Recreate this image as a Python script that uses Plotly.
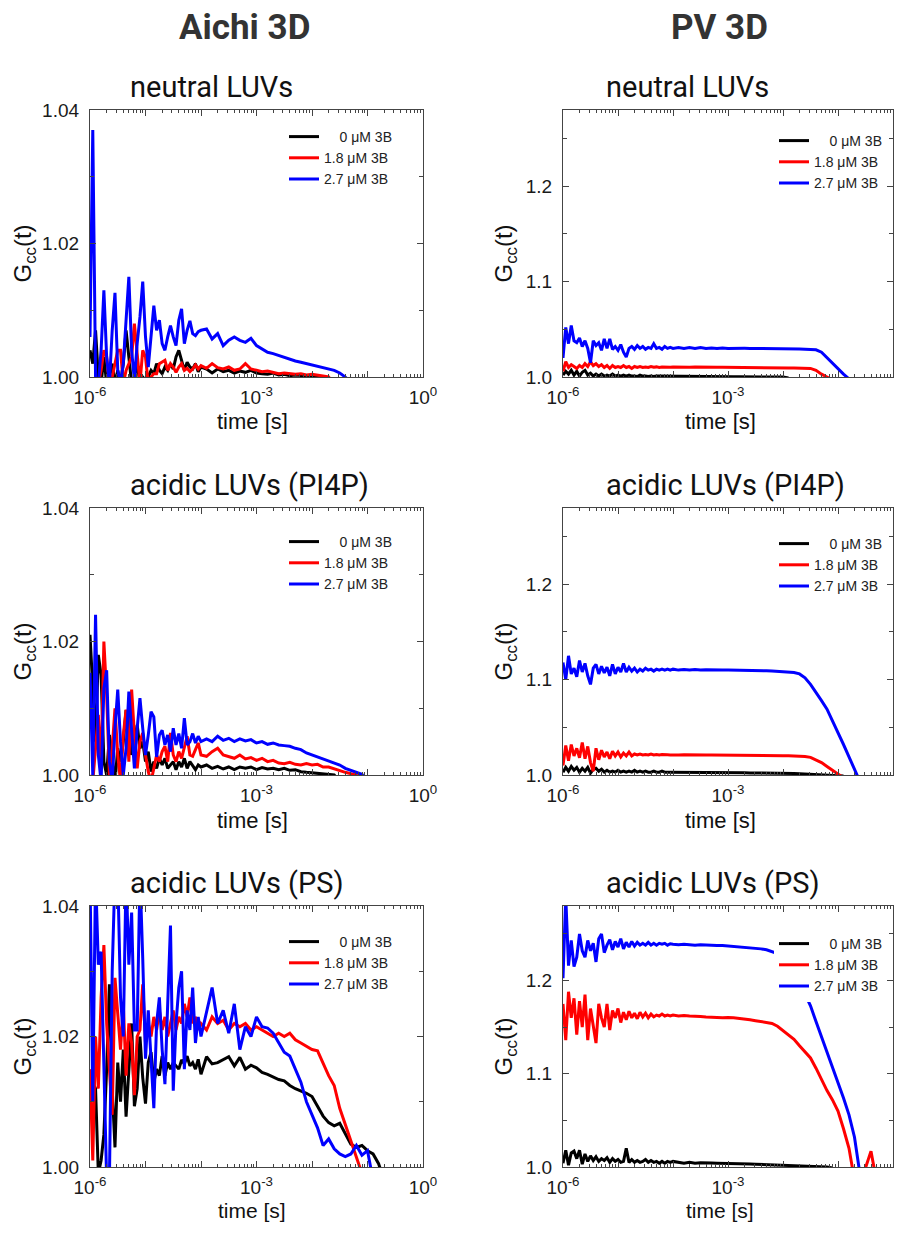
import plotly.graph_objects as go

# log10 of lag time [s], shared by every curve
log_t = [-6.00, -5.95, -5.90, -5.85, -5.80, -5.75, -5.70, -5.65, -5.60, -5.55,
         -5.50, -5.45, -5.40, -5.35, -5.30, -5.25, -5.20, -5.15, -5.10, -5.05,
         -5.00, -4.95, -4.90, -4.85, -4.80, -4.75, -4.70, -4.65, -4.60, -4.55,
         -4.50, -4.45, -4.40, -4.35, -4.30, -4.25, -4.20, -4.15, -4.10, -4.05,
         -4.0, -3.9, -3.8, -3.7, -3.6, -3.5, -3.4, -3.3, -3.2, -3.1,
         -3.0, -2.9, -2.8, -2.7, -2.6, -2.5, -2.4, -2.3, -2.2, -2.1,
         -2.0, -1.9, -1.8, -1.7, -1.6, -1.5, -1.4, -1.3, -1.2, -1.1,
         -1.0, -0.9, -0.8, -0.7, -0.6, -0.5, -0.4, -0.3, -0.2, -0.1]

labels = ["\u2007\u2008 0 \u03bcM 3B", "1.8 \u03bcM 3B", "2.7 \u03bcM 3B"]
colors = ["#000000", "#ff0000", "#0000ff"]

# ---- Aichi 3D, neutral LUVs
aichi_neutral_0 = [1.004, 1.002, 1.007, 1.000, 0.999, 1.003, 0.999, 1.000, 1.002, 0.999,
                   1.001, 0.999, 1.002, 1.007, 1.003, 0.999, 1.000, 1.002, 0.999, 1.000,
                   0.9995, 1.000, 1.001, 1.0005, 1.002, 1.001, 1.0005, 1.0015, 1.001, 1.002,
                   1.0012, 1.003, 1.004, 1.0025, 1.001, 1.0022, 1.0015, 1.0012, 1.002, 1.0008,
                   1.0015, 1.0012, 1.0006, 1.0012, 1.0008, 1.0010, 1.0006, 1.0009, 1.0007, 1.0010,
                   1.0006, 1.0005, 1.0004, 1.0006, 1.0003, 1.0004, 1.0002, 1.0003, 1.0002, 1.0001,
                   1.0001, 1.0000, 0.999]
aichi_neutral_18 = [0.999, 0.999, 1.000, 0.999, 1.001, 1.004, 1.003, 0.999, 1.000, 1.002,
                    1.004, 1.004, 0.999, 1.001, 1.002, 1.003, 1.008, 1.004, 0.999, 1.004,
                    1.003, 0.999, 1.000, 1.0005, 1.0005, 1.002, 1.0022, 1.0025, 1.001, 1.002,
                    1.0015, 1.0007, 1.0015, 1.002, 1.001, 1.0013, 1.0008, 1.0012, 1.0018, 1.0012,
                    1.0017, 1.0013, 1.002, 1.0014, 1.0012, 1.0015, 1.0010, 1.0012, 1.002, 1.0012,
                    1.001, 1.0008, 1.0009, 1.0007, 1.0005, 1.0006, 1.0005, 1.0004, 1.0005, 1.0003,
                    1.0004, 1.0003, 1.0002, 1.0000, 0.999]
aichi_neutral_27 = [1.006, 1.037, 1.000, 0.999, 1.004, 1.013, 1.003, 0.999, 1.007, 1.0126,
                    1.001, 0.999, 1.002, 1.008, 1.015, 1.004, 0.9995, 1.005, 1.009, 1.0143,
                    1.006, 1.0015, 1.006, 1.0107, 1.007, 1.0085, 1.005, 1.004, 1.006, 1.0077,
                    1.006, 1.0047, 1.0085, 1.0102, 1.005, 1.007, 1.0084, 1.0065, 1.0062, 1.0068,
                    1.007, 1.0072, 1.0057, 1.0065, 1.0047, 1.0055, 1.006, 1.0055, 1.0052, 1.0058,
                    1.0047, 1.0042, 1.0037, 1.0035, 1.0032, 1.0030, 1.0027, 1.0024, 1.0022, 1.0020,
                    1.0017, 1.0015, 1.0014, 1.0012, 1.0010, 1.0006, 1.0000, 0.999]

# ---- PV 3D, neutral LUVs
pv_neutral_0 = [1.002, 1.006, 1.003, 1.007, 1.002, 1.006, 1.001, 1.005, 1.007, 1.002,
                1.004, 1.001, 1.003, 1.001, 1.003, 1.001, 1.002, 1.001, 1.003, 1.001,
                1.002, 1.001, 1.002, 1.001, 1.002, 1.001, 1.001, 1.0005, 1.002, 1.001,
                1.001, 1.0005, 1.001, 1.0005, 1.001, 1.001, 1.0005, 1.001, 1.0005, 1.001,
                1.0005, 1.0008, 1.0005, 1.0006, 1.0005, 1.0004, 1.0005, 1.0004, 1.0004, 1.0003,
                1.0003, 1.0003, 1.0002, 1.0002, 1.0002, 1.0001, 1.0001, 1.0001, 1.0, 1.0,
                1.0, 0.999]
pv_neutral_18 = [1.006, 1.016, 1.010, 1.013, 1.011, 1.009, 1.012, 1.010, 1.014, 1.011,
                 1.016, 1.012, 1.014, 1.011, 1.013, 1.010, 1.012, 1.009, 1.012, 1.010,
                 1.011, 1.010, 1.012, 1.010, 1.011, 1.009, 1.011, 1.010, 1.011, 1.010,
                 1.0105, 1.010, 1.011, 1.0102, 1.0106, 1.010, 1.0105, 1.0102, 1.0105, 1.0103,
                 1.0105, 1.0102, 1.0104, 1.0103, 1.0104, 1.0102, 1.0103, 1.0102, 1.0103, 1.0102,
                 1.0102, 1.0102, 1.0101, 1.0101, 1.010, 1.010, 1.010, 1.0099, 1.0098, 1.0097,
                 1.0096, 1.0095, 1.0094, 1.0093, 1.0092, 1.009, 1.007, 1.003, 1.000, 0.997]
pv_neutral_27 = [1.020, 1.052, 1.035, 1.054, 1.038, 1.036, 1.041, 1.032, 1.038, 1.030,
                 1.015, 1.038, 1.033, 1.036, 1.028, 1.040, 1.030, 1.040, 1.029, 1.032,
                 1.028, 1.034, 1.026, 1.021, 1.030, 1.032, 1.029, 1.033, 1.030, 1.032,
                 1.029, 1.031, 1.030, 1.035, 1.030, 1.031, 1.029, 1.032, 1.030, 1.031,
                 1.030, 1.031, 1.030, 1.031, 1.030, 1.031, 1.030, 1.0305, 1.030, 1.0305,
                 1.030, 1.0302, 1.030, 1.0301, 1.030, 1.030, 1.0299, 1.0299, 1.0298, 1.0297,
                 1.0296, 1.0295, 1.0294, 1.0293, 1.0292, 1.029, 1.0285, 1.026, 1.020, 1.014,
                 1.008, 1.003, 0.998]

# ---- Aichi 3D, acidic LUVs (PI4P)
aichi_pi4p_0 = [1.021, 1.012, 1.005, 1.018, 1.015, 1.002, 1.000, 1.006, 1.002, 0.999,
                1.004, 1.002, 1.005, 1.0097, 1.008, 1.003, 1.005, 1.0075, 1.004, 1.005,
                1.002, 1.0035, 1.0005, 1.002, 1.001, 1.0025, 1.0015, 1.0025, 1.001, 1.0015,
                1.002, 1.0008, 1.002, 1.0012, 1.0025, 1.001, 1.002, 1.0014, 1.0008, 1.0015,
                1.0012, 1.0015, 1.001, 1.0013, 1.0009, 1.0012, 1.0008, 1.0012, 1.001, 1.0012,
                1.0008, 1.0011, 1.0009, 1.001, 1.0008, 1.001, 1.0007, 1.0008, 1.0005, 1.0004,
                1.0003, 1.0002, 1.0002, 1.0001, 1.0, 0.999]
aichi_pi4p_18 = [1.000, 0.999, 1.004, 1.009, 1.001, 1.020, 1.012, 1.000, 1.004, 1.010,
                 1.003, 0.999, 1.006, 1.0098, 1.002, 1.0128, 1.006, 1.001, 1.005, 1.0063,
                 1.003, 1.0005, 0.999, 1.001, 1.003, 1.002, 1.0035, 1.0043, 1.002, 1.0063,
                 1.003, 1.002, 1.0035, 1.0025, 1.004, 1.0058, 1.003, 1.0028, 1.0038, 1.0048,
                 1.003, 1.0028, 1.0035, 1.004, 1.003, 1.0028, 1.0025, 1.003, 1.0024, 1.0026,
                 1.0022, 1.0025, 1.002, 1.0022, 1.0018, 1.0017, 1.0019, 1.0016, 1.0015, 1.0017,
                 1.0015, 1.0016, 1.0012, 1.0012, 1.0009, 1.0007, 1.0004, 1.0002, 1.0, 0.999]
aichi_pi4p_27 = [1.0153, 1.000, 1.024, 1.003, 0.999, 1.013, 1.0157, 1.002, 0.999, 1.007,
                 1.0128, 1.005, 1.000, 1.004, 1.0125, 1.006, 1.001, 1.007, 1.0115, 1.007,
                 1.003, 1.006, 1.0095, 1.0087, 1.0027, 1.006, 1.0067, 1.0045, 1.006, 1.0035,
                 1.007, 1.0045, 1.0062, 1.004, 1.0085, 1.0045, 1.005, 1.0062, 1.0048, 1.0058,
                 1.005, 1.0054, 1.005, 1.0058, 1.0052, 1.0055, 1.005, 1.0054, 1.0051, 1.0053,
                 1.0048, 1.005, 1.0046, 1.0048, 1.0045, 1.0044, 1.0043, 1.004, 1.0038, 1.0033,
                 1.003, 1.0027, 1.0025, 1.0022, 1.0018, 1.0015, 1.001, 1.0007, 1.0004, 1.0001,
                 0.999]

# ---- PV 3D, acidic LUVs (PI4P)
pv_pi4p_0 = [1.003, 1.008, 1.004, 1.009, 1.005, 1.008, 1.003, 1.007, 1.004, 1.008,
             1.002, 1.006, 1.007, 1.004, 1.006, 1.003, 1.005, 1.003, 1.004, 1.003,
             1.005, 1.003, 1.004, 1.003, 1.004, 1.003, 1.005, 1.003, 1.004, 1.003,
             1.004, 1.003, 1.003, 1.004, 1.003, 1.003, 1.004, 1.003, 1.003, 1.003,
             1.003, 1.003, 1.0028, 1.003, 1.0027, 1.0028, 1.0026, 1.0027, 1.0025, 1.0026,
             1.0025, 1.0024, 1.0024, 1.0023, 1.0022, 1.0022, 1.0021, 1.002, 1.002, 1.0019,
             1.0018, 1.0017, 1.0016, 1.0014, 1.0012, 1.001, 1.0008, 1.0006, 1.0004, 1.0002,
             1.000, 0.999]
pv_pi4p_18 = [1.010, 1.031, 1.015, 1.032, 1.020, 1.028, 1.018, 1.034, 1.017, 1.030,
              1.013, 1.004, 1.028, 1.016, 1.026, 1.019, 1.024, 1.017, 1.025, 1.020,
              1.024, 1.019, 1.023, 1.020, 1.024, 1.020, 1.022, 1.021, 1.022, 1.021,
              1.0215, 1.021, 1.022, 1.021, 1.0215, 1.021, 1.0215, 1.021, 1.0212, 1.021,
              1.0212, 1.021, 1.0212, 1.021, 1.0211, 1.021, 1.0211, 1.021, 1.021, 1.021,
              1.021, 1.021, 1.0209, 1.0209, 1.0208, 1.0208, 1.0207, 1.0206, 1.0205, 1.0204,
              1.0203, 1.0202, 1.020, 1.0198, 1.0195, 1.0185, 1.016, 1.013, 1.009, 1.005,
              1.001, 0.997]
pv_pi4p_27 = [1.118, 1.100, 1.125, 1.106, 1.112, 1.103, 1.120, 1.108, 1.117, 1.104,
              1.095, 1.112, 1.116, 1.106, 1.114, 1.107, 1.113, 1.104, 1.116, 1.106,
              1.113, 1.108, 1.117, 1.108, 1.113, 1.109, 1.112, 1.108, 1.111, 1.109,
              1.112, 1.110, 1.111, 1.109, 1.111, 1.110, 1.111, 1.110, 1.111, 1.110,
              1.111, 1.110, 1.1105, 1.110, 1.1105, 1.110, 1.1103, 1.110, 1.1102, 1.110,
              1.110, 1.110, 1.110, 1.1098, 1.1097, 1.1096, 1.1095, 1.1093, 1.109, 1.1088,
              1.1085, 1.108, 1.1075, 1.106, 1.102, 1.095, 1.087, 1.078, 1.069, 1.057,
              1.045, 1.032, 1.019, 1.006, 0.993]

# ---- Aichi 3D, acidic LUVs (PS)
aichi_ps_0 = [1.014, 1.013, 1.012, 0.999, 1.001, 1.005, 1.015, 1.028, 1.012, 1.003,
              1.016, 1.010, 1.018, 1.0077, 1.014, 1.022, 1.0093, 1.012, 1.020, 1.0137,
              1.0097, 1.016, 1.0176, 1.013, 1.015, 1.014, 1.017, 1.014, 1.016, 1.015,
              1.016, 1.0155, 1.015, 1.0164, 1.0158, 1.017, 1.0155, 1.016, 1.015, 1.0165,
              1.0142, 1.0169, 1.0158, 1.016, 1.0165, 1.0169, 1.0155, 1.0168, 1.015, 1.0156,
              1.0152, 1.0145, 1.0142, 1.0138, 1.0134, 1.0132, 1.0125, 1.012, 1.0117, 1.0113,
              1.0108, 1.0092, 1.0078, 1.0068, 1.0063, 1.0067, 1.005, 1.0035, 1.003, 1.0033,
              1.0025, 1.002, 1.0005, 0.998]
aichi_ps_18 = [1.015, 1.001, 1.020, 1.012, 1.026, 1.034, 1.022, 1.015, 1.008, 1.029,
               1.024, 1.018, 1.025, 1.014, 1.022, 1.019, 1.011, 1.020, 1.021, 1.028,
               1.019, 1.022, 1.020, 1.023, 1.021, 1.024, 1.021, 1.023, 1.020, 1.022,
               1.024, 1.021, 1.023, 1.022, 1.025, 1.023, 1.026, 1.022, 1.023, 1.021,
               1.022, 1.021, 1.023, 1.022, 1.0225, 1.021, 1.022, 1.0215, 1.022, 1.021,
               1.0215, 1.021, 1.0205, 1.020, 1.0205, 1.020, 1.0205, 1.0195, 1.019, 1.0185,
               1.018, 1.0178, 1.016, 1.014, 1.0125, 1.009, 1.0065, 1.004, 1.0015, 0.999]
aichi_ps_27 = [1.045, 1.010, 1.045, 1.031, 1.033, 1.015, 0.998, 0.998, 1.030, 1.045,
               1.045, 1.026, 1.020, 1.045, 1.031, 1.039, 1.021, 1.021, 1.045, 1.032,
               1.0166, 1.024, 1.016, 1.009, 1.022, 1.026, 1.018, 1.0127, 1.025, 1.037,
               1.0117, 1.022, 1.0275, 1.030, 1.015, 1.024, 1.021, 1.0275, 1.019, 1.023,
               1.020, 1.024, 1.0275, 1.022, 1.024, 1.0205, 1.025, 1.018, 1.0215, 1.020,
               1.023, 1.0215, 1.0213, 1.0205, 1.019, 1.0176, 1.017, 1.015, 1.013, 1.010,
               1.008, 1.006, 1.0033, 1.0043, 1.0028, 1.002, 1.0016, 1.002, 1.0033, 1.0018,
               1.0025, 0.998]

# ---- PV 3D, acidic LUVs (PS)
pv_ps_0 = [1.004, 1.018, 1.002, 1.015, 1.017, 1.009, 1.018, 1.003, 1.014, 1.006,
           1.012, 1.007, 1.011, 1.006, 1.009, 1.007, 1.010, 1.005, 1.009, 1.006,
           1.008, 1.005, 1.006, 1.020, 1.005, 1.008, 1.005, 1.007, 1.005, 1.006,
           1.008, 1.005, 1.007, 1.005, 1.006, 1.004, 1.006, 1.004, 1.006, 1.005,
           1.006, 1.005, 1.004, 1.005, 1.004, 1.0045, 1.004, 1.0042, 1.004, 1.004,
           1.004, 1.0038, 1.0036, 1.0035, 1.0033, 1.003, 1.0028, 1.0026, 1.0024, 1.0022,
           1.002, 1.0018, 1.0016, 1.0014, 1.0012, 1.001, 1.0006, 1.0003, 1.000, 0.999]
pv_ps_18 = [1.175, 1.136, 1.188, 1.160, 1.181, 1.142, 1.178, 1.150, 1.185, 1.136,
            1.170, 1.152, 1.133, 1.175, 1.160, 1.150, 1.175, 1.147, 1.168, 1.160,
            1.170, 1.155, 1.166, 1.158, 1.167, 1.160, 1.165, 1.159, 1.166, 1.161,
            1.165, 1.160, 1.164, 1.161, 1.163, 1.162, 1.164, 1.162, 1.163, 1.162,
            1.163, 1.162, 1.1625, 1.162, 1.162, 1.1615, 1.161, 1.161, 1.1605, 1.160,
            1.1605, 1.160, 1.1595, 1.159, 1.158, 1.157, 1.156, 1.1555, 1.154, 1.151,
            1.146, 1.142, 1.137, 1.130, 1.124, 1.117, 1.106, 1.094, 1.082, 1.072,
            1.060, 1.041, 1.020, 0.986, 0.985, 0.999, 1.017, 0.985]
pv_ps_27 = [1.2025, 1.290, 1.216, 1.243, 1.215, 1.225, 1.250, 1.232, 1.225, 1.243,
            1.232, 1.240, 1.220, 1.245, 1.250, 1.230, 1.238, 1.244, 1.233, 1.242,
            1.236, 1.245, 1.234, 1.241, 1.236, 1.242, 1.237, 1.241, 1.238, 1.240,
            1.238, 1.241, 1.238, 1.240, 1.238, 1.240, 1.239, 1.240, 1.238, 1.2395,
            1.239, 1.2385, 1.239, 1.2385, 1.238, 1.2385, 1.238, 1.238, 1.2375, 1.2375,
            1.237, 1.237, 1.2365, 1.236, 1.2355, 1.235, 1.234, 1.233, 1.231, 1.229,
            1.223, 1.216, 1.208, 1.198, 1.186, 1.173, 1.156, 1.140, 1.124, 1.108,
            1.091, 1.074, 1.056, 1.032, 0.992]

panels = [
    ("neutral LUVs", [aichi_neutral_0, aichi_neutral_18, aichi_neutral_27]),
    ("neutral LUVs", [pv_neutral_0, pv_neutral_18, pv_neutral_27]),
    ("acidic LUVs (PI4P)", [aichi_pi4p_0, aichi_pi4p_18, aichi_pi4p_27]),
    ("acidic LUVs (PI4P)", [pv_pi4p_0, pv_pi4p_18, pv_pi4p_27]),
    ("acidic LUVs (PS)", [aichi_ps_0, aichi_ps_18, aichi_ps_27]),
    ("acidic LUVs (PS)", [pv_ps_0, pv_ps_18, pv_ps_27]),
]

# page geometry in window pixels; the html body adds an 8 px margin
W, H, OFF = 908, 1234, 8
FW, FH = W - 2 * OFF, H - 2 * OFF


def px(x):
    return (x - OFF) / FW


def py(y):
    return 1 - (y - OFF) / FH


col_x = [(90, 423), (563, 893)]
row_y = [(110, 377), (508, 775), (906, 1167)]
legend_pos = [(284, 121), (774, 125), (284, 526), (774, 528), (284, 926), (774, 928)]

tick_font = dict(family="Liberation Sans, Arial", size=19, color="#1a1a1a")
axis_color = "#444444"

decades = [10.0 ** e for e in range(-6, 1)]
decade_text = ["10<sup>-6</sup>", "", "", "10<sup>-3</sup>", "", "", "10<sup>0</sup>"]
minor_x = [m * 10.0 ** e for e in range(-6, 0) for m in range(2, 10)]

fig = go.Figure()
layout = dict(width=FW, height=FH, margin=dict(l=0, r=0, t=0, b=0, autoexpand=False),
              paper_bgcolor="white", plot_bgcolor="white", showlegend=True)
annotations = []

for i, (title, series) in enumerate(panels):
    n = i + 1
    row, col = i // 2, i % 2
    x0, x1 = col_x[col]
    y0, y1 = row_y[row]
    leg = "legend" if n == 1 else f"legend{n}"
    for y, lab, c in zip(series, labels, colors):
        fig.add_trace(go.Scatter(
            x=[10.0 ** v for v in log_t[:len(y)]], y=y, mode="lines", name=lab,
            line=dict(color=c, width=3), xaxis=f"x{n}", yaxis=f"y{n}", legend=leg))

    layout[f"xaxis{n}"] = dict(
        type="log", range=[-6, 0], domain=[px(x0), px(x1)], anchor=f"y{n}",
        automargin=False,
        showline=True, mirror="allticks", linecolor=axis_color, linewidth=1.2,
        ticks="inside", ticklen=6, tickcolor=axis_color, tickmode="array",
        tickvals=decades, ticktext=decade_text, tickfont=tick_font,
        ticklabelstandoff=3, showgrid=False, zeroline=False,
        minor=dict(tickmode="array", tickvals=minor_x, ticks="inside", ticklen=3,
                   tickcolor=axis_color, showgrid=False))
    if col == 0:
        yr, yt, ym = [1.0, 1.04], [1.00, 1.02, 1.04], [1.01, 1.03]
        ytext = ["1.00", "1.02", "1.04"]
    else:
        yr, yt, ym = [1.0, 1.28], [1.0, 1.1, 1.2], [1.05, 1.15, 1.25]
        ytext = ["1.0", "1.1", "1.2"]
    layout[f"yaxis{n}"] = dict(
        range=yr, domain=[py(y1), py(y0)], anchor=f"x{n}",
        automargin=False,
        showline=True, mirror="allticks", linecolor=axis_color, linewidth=1.2,
        ticks="inside", ticklen=6, tickcolor=axis_color, tickmode="array",
        tickvals=yt, ticktext=ytext, tickfont=tick_font, ticklabelstandoff=6,
        showgrid=False, zeroline=False,
        minor=dict(tickmode="array", tickvals=ym, ticks="inside", ticklen=4,
                   tickcolor=axis_color, showgrid=False))

    lx, ly = legend_pos[i]
    layout[leg] = dict(x=px(lx), y=py(ly), xanchor="left", yanchor="top",
                       bgcolor="white", borderwidth=0, itemwidth=30, tracegroupgap=0,
                       font=dict(family="Liberation Sans, Arial", size=14, color="#222222"))

    # panel title, axis titles
    annotations.append(dict(text=title, x=px(128 if col == 0 else 604),
                            y=py(y0 - 23), xref="paper", yref="paper",
                            xanchor="left", yanchor="middle", showarrow=False,
                            font=dict(family="Roboto", size=29, color="#111111")))
    bottom_row = row == 2
    annotations.append(dict(text="time [s]", x=px(252 if col == 0 else 720),
                            y=py(1210 if bottom_row else y1 + 45), xref="paper", yref="paper",
                            xanchor="center", yanchor="middle", showarrow=False,
                            font=dict(family="Liberation Sans, Arial",
                                      size=21 if bottom_row else 22, color="#111111")))
    annotations.append(dict(text="G<sub>cc</sub>(t)", x=px(24 if col == 0 else 505),
                            y=py((y0 + y1) / 2 + 10), xref="paper", yref="paper",
                            xanchor="center", yanchor="middle", textangle=-90, showarrow=False,
                            font=dict(family="Liberation Sans, Arial", size=24, color="#111111")))

for txt, cx in [("Aichi 3D", 244), ("PV 3D", 719)]:
    annotations.append(dict(text=f"<b>{txt}</b>", x=px(cx), y=py(27),
                            xref="paper", yref="paper", xanchor="center", yanchor="middle",
                            showarrow=False, font=dict(family="Roboto", size=35, color="#333333")))

layout["annotations"] = annotations
fig.update_layout(**layout)

fig.write_html("out.html", config={"displayModeBar": False})
